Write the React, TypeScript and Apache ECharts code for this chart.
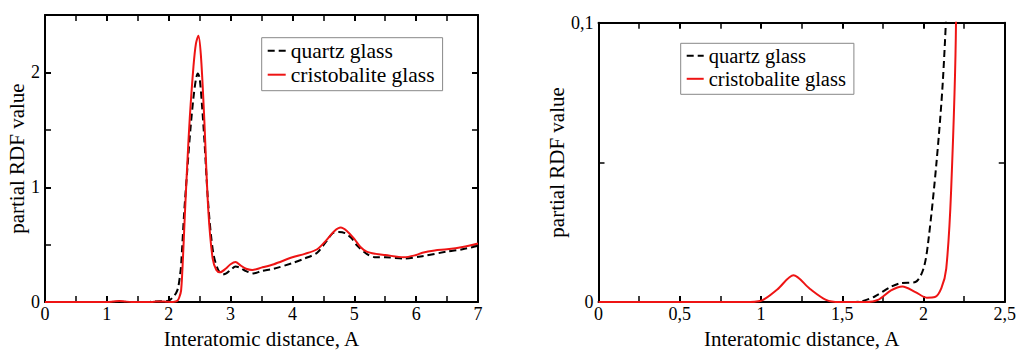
import React, { useEffect, useRef } from "react";
import * as echarts from "echarts";

// [distance (Å), partial RDF value]
const quartzGlass: [number, number][] = [
  [0, 0], [1.55, 0], [1.62, 0.0003], [1.7, 0.002], [1.8, 0.0055], [1.86, 0.0068], [1.95, 0.0072],
  [2.0, 0.012], [2.03, 0.022], [2.08, 0.05], [2.12, 0.08], [2.15, 0.12], [2.18, 0.22], [2.2, 0.32],
  [2.25, 0.78], [2.3, 1.15], [2.35, 1.5], [2.4, 1.78], [2.44, 1.94], [2.47, 1.99], [2.5, 1.95],
  [2.54, 1.7], [2.58, 1.38], [2.63, 0.92], [2.68, 0.6], [2.73, 0.4], [2.8, 0.28], [2.87, 0.24],
  [2.93, 0.25], [3.0, 0.28], [3.08, 0.31], [3.15, 0.3], [3.25, 0.27], [3.37, 0.25], [3.5, 0.27],
  [3.7, 0.29], [4.0, 0.34], [4.2, 0.38], [4.4, 0.43], [4.55, 0.53], [4.65, 0.6], [4.75, 0.61],
  [4.85, 0.6], [4.95, 0.56], [5.05, 0.49], [5.2, 0.42], [5.35, 0.39], [5.5, 0.39], [5.8, 0.38],
  [6.1, 0.4], [6.5, 0.44], [6.75, 0.46], [7.0, 0.49],
];

const cristobaliteGlass: [number, number][] = [
  [0, 0], [0.9, 0], [1.0, 0.0005], [1.1, 0.0045], [1.2, 0.0096], [1.3, 0.0048], [1.4, 0.0008],
  [1.48, 0], [1.65, 0], [1.72, 0.0008], [1.8, 0.0042], [1.87, 0.0056], [1.95, 0.0036], [2.02, 0.0016],
  [2.07, 0.0018], [2.11, 0.005], [2.14, 0.012], [2.17, 0.04], [2.2, 0.1], [2.23, 0.38], [2.26, 0.75],
  [2.3, 1.2], [2.34, 1.6], [2.4, 2.05], [2.44, 2.25], [2.48, 2.32], [2.52, 2.15], [2.57, 1.65],
  [2.64, 0.8], [2.71, 0.38], [2.77, 0.28], [2.83, 0.26], [2.92, 0.29], [3.0, 0.33], [3.08, 0.35],
  [3.16, 0.32], [3.25, 0.29], [3.35, 0.28], [3.5, 0.3], [3.7, 0.33], [4.0, 0.39], [4.2, 0.42],
  [4.4, 0.46], [4.55, 0.54], [4.68, 0.62], [4.78, 0.65], [4.88, 0.62], [5.0, 0.55], [5.1, 0.48],
  [5.2, 0.44], [5.35, 0.42], [5.5, 0.41], [5.8, 0.39], [6.0, 0.41], [6.1, 0.43], [6.3, 0.45],
  [6.5, 0.46], [6.75, 0.48], [7.0, 0.51],
];

const seriesNames = ["quartz glass", "cristobalite glass"];
const xTitle = "Interatomic distance, A";
const yTitle = "partial RDF value";

const FONT = "Liberation Serif";
const RED = "#ee1414";

const fmtComma = (v: number) => String(Math.round(v * 1000) / 1000).replace(".", ",");

function axisCommon(labelShow: boolean, fontSize: number) {
  return {
    type: "value" as const,
    axisLine: { show: true, onZero: false, lineStyle: { color: "#000", width: 2 } },
    axisTick: { show: true, inside: true, length: 6, lineStyle: { color: "#000", width: 2 } },
    minorTick: { show: true, splitNumber: 2, length: 6, lineStyle: { color: "#000", width: 1.5 } },
    splitLine: { show: false },
    axisLabel: { show: labelShow, color: "#000", fontSize, fontFamily: FONT },
  };
}

export default function App() {
  const ref = useRef<HTMLDivElement>(null);
  useEffect(() => {
    if (!ref.current) return;
    const chart = echarts.init(ref.current, undefined, { renderer: "svg" });
    const nameStyle = { color: "#000", fontSize: 21, fontFamily: FONT };
    const legendCommon = {
      data: seriesNames, orient: "vertical",
      itemHeight: 14, itemGap: 2, padding: [2, 8, 5, 5],
      borderColor: "#888", borderWidth: 1, backgroundColor: "#fff",
      itemStyle: { opacity: 0, borderWidth: 0 },
      selectedMode: false,
    };
    const option: any = {
      animation: false,
      backgroundColor: "#fff",
      textStyle: { fontFamily: FONT },
      grid: [
        { left: 45, top: 15, width: 433, height: 300 },
        { left: 598.5, top: 22.7, width: 410, height: 291.3 },
      ],
      xAxis: [
        {
          ...axisCommon(true, 18), gridIndex: 0, position: "bottom", min: 0, max: 7, interval: 1,
          axisLabel: { ...axisCommon(true, 18).axisLabel, margin: 3 },
          name: xTitle, nameLocation: "middle", nameGap: 14, nameTextStyle: nameStyle,
        },
        { ...axisCommon(false, 18), gridIndex: 0, position: "top", min: 0, max: 7, interval: 1 },
        {
          ...axisCommon(true, 18), gridIndex: 1, position: "bottom", min: 0, max: 2.5, interval: 0.5,
          axisLabel: { ...axisCommon(true, 18).axisLabel, margin: 3, formatter: fmtComma },
          name: xTitle, nameLocation: "middle", nameGap: 14, nameTextStyle: nameStyle,
        },
        { ...axisCommon(false, 18), gridIndex: 1, position: "top", min: 0, max: 2.5, interval: 0.5 },
      ],
      yAxis: [
        {
          ...axisCommon(true, 18), gridIndex: 0, position: "left", min: 0, max: 2.5, interval: 1,
          axisLabel: {
            ...axisCommon(true, 18).axisLabel, margin: 5,
            formatter: (v: number) => (Number.isInteger(v) ? String(v) : ""),
          },
          name: yTitle, nameLocation: "middle", nameGap: 16, nameTextStyle: nameStyle,
        },
        { ...axisCommon(false, 18), gridIndex: 0, position: "right", min: 0, max: 2.5, interval: 1 },
        {
          ...axisCommon(true, 18), gridIndex: 1, position: "left", min: 0, max: 0.1, interval: 0.1,
          axisLabel: { ...axisCommon(true, 18).axisLabel, margin: 5, formatter: fmtComma },
          name: yTitle, nameLocation: "middle", nameGap: 26, nameTextStyle: nameStyle,
        },
        { ...axisCommon(false, 18), gridIndex: 1, position: "right", min: 0, max: 0.1, interval: 0.1 },
      ],
      legend: [
        {
          ...legendCommon, left: 261.7, top: 37.7, itemWidth: 18,
          textStyle: { color: "#000", fontSize: 21.5, fontFamily: FONT },
        },
        {
          ...legendCommon, left: 680.7, top: 43.3, itemWidth: 17,
          textStyle: { color: "#000", fontSize: 20.5, fontFamily: FONT },
        },
      ],
      series: [
        {
          name: seriesNames[0], type: "line", xAxisIndex: 0, yAxisIndex: 0, data: quartzGlass,
          symbol: "none", smooth: 0.3, clip: true, color: "#000",
          lineStyle: { color: "#000", width: 2, type: [7, 4] },
        },
        {
          name: seriesNames[1], type: "line", xAxisIndex: 0, yAxisIndex: 0, data: cristobaliteGlass,
          symbol: "none", smooth: 0.3, clip: true, color: RED,
          lineStyle: { color: RED, width: 2 },
        },
        {
          name: seriesNames[0], type: "line", xAxisIndex: 2, yAxisIndex: 2, data: quartzGlass,
          symbol: "none", smooth: 0.3, clip: true, color: "#000",
          lineStyle: { color: "#000", width: 2, type: [7, 4] },
        },
        {
          name: seriesNames[1], type: "line", xAxisIndex: 2, yAxisIndex: 2, data: cristobaliteGlass,
          symbol: "none", smooth: 0.3, clip: true, color: RED,
          lineStyle: { color: RED, width: 2 },
        },
      ],
    };
    chart.setOption(option);
    return () => chart.dispose();
  }, []);
  return (
    <div
      ref={ref}
      style={{ position: "fixed", left: 0, top: 0, width: 1019, height: 354, background: "#fff" }}
    />
  );
}
